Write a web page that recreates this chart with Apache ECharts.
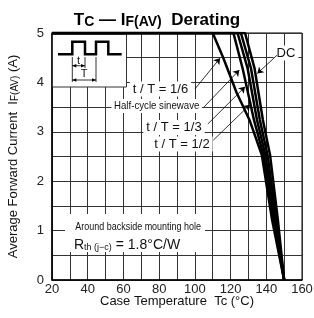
<!doctype html>
<html>
<head>
<meta charset="utf-8">
<script src="https://cdn.jsdelivr.net/npm/echarts@6/dist/echarts.min.js"></script>
<style>body{margin:0;background:#fff}#chart{width:314px;height:318px}</style>
</head>
<body>
<div id="chart"></div>
<script>
// case temperature (°C) vs. average forward current (A)
var amps = [5, 5, 4.29, 3.24, 2.53, 1.21, 0];
var tSine = [20, 121.6, 126.7, 133.1, 138.4, 144.0, 150];
var tThird = [20, 123.9, 129.5, 134.8, 139.5, 144.9, 150];
var tHalf = [20, 125.8, 131.4, 136.4, 140.7, 145.7, 150];
var tDC = [20, 128.1, 133.4, 138.1, 142.1, 146.5, 150];
var ampsSixth = [5, 5, 4.49, 3.79, 3.24, 2.53, 1.21, 0];
var tSixth = [20, 110, 116, 123.4, 130.6, 137.5, 143.3, 150];

var xTicks = [20, 40, 60, 80, 100, 120, 140, 160];
var yTicks = [0, 1, 2, 3, 4, 5];

// label arrows: [start, tip] in (°C, A)
var arrowSixth = [[100.1, 3.87], [114.1, 4.49]];
var arrowSine = [[105.1, 3.50], [124.9, 4.25]];
var arrowThird = [[107.3, 3.16], [128.1, 3.91]];
var arrowHalf = [[110.3, 2.83], [130.9, 3.55]];
var arrowDC = [[146, 4.55], [135, 4.18]];

var FONT = '"Liberation Sans", Arial, sans-serif';

function pairs(xs, ys) {
    return xs.map(function (x, i) { return [x, ys[i]]; });
}

function curve(name, xs, ys, arrow) {
    return {
        name: name,
        type: 'line',
        data: pairs(xs, ys),
        symbol: 'none',
        lineStyle: { color: '#000', width: 2.5 },
        z: 2,
        markLine: {
            silent: true,
            symbol: ['none', 'arrow'],
            symbolSize: 6,
            label: { show: false },
            lineStyle: { color: '#000', width: 0.8, type: 'solid' },
            data: [[{ coord: arrow[0] }, { coord: arrow[1] }]]
        }
    };
}

function head(x, y, dir) {
    var d = dir * 4;
    return { type: 'polygon', z: 3, shape: { points: [[x, y], [x - d, y - 1.8], [x - d, y + 1.8]] }, style: { fill: '#000' } };
}
function seg(x1, y1, x2, y2, w) {
    return { type: 'line', z: 3, shape: { x1: x1, y1: y1, x2: x2, y2: y2 }, style: { stroke: '#000', lineWidth: w || 0.8 } };
}
// text at (x, y); sx squeezes it horizontally for the condensed captions
function label(text, x, y, size, sx, align) {
    return {
        type: 'text', z: 4, x: x, y: y, scaleX: sx || 1,
        style: {
            text: text, x: 0, y: 0, align: align || 'center', verticalAlign: 'middle',
            font: (size || 13) + 'px ' + FONT, fill: '#111',
            backgroundColor: '#fff', padding: [1, 3]
        }
    };
}

var myChart = echarts.init(document.getElementById('chart'));

myChart.setOption({
    animation: false,
    backgroundColor: '#fff',
    title: {
        text: '{a|T}{b|C}{a| — I}{b|F(AV)}{a|  Derating}',
        left: 'center',
        top: 4,
        textStyle: {
            rich: {
                a: { fontSize: 17, fontWeight: 'bold', fontFamily: FONT, color: '#000', verticalAlign: 'bottom', lineHeight: 20 },
                b: { fontSize: 14, fontWeight: 'bold', fontFamily: FONT, color: '#000', verticalAlign: 'bottom', lineHeight: 20 }
            }
        }
    },
    grid: {
        left: 52, right: 12, top: 33, bottom: 38, outerBoundsMode: 'none',
        show: true, borderColor: '#000', borderWidth: 1
    },
    xAxis: {
        type: 'value', min: 20, max: 160, interval: 10,
        name: 'Case Temperature  Tc (°C)',
        nameLocation: 'middle', nameGap: 15, nameMoveOverlap: false,
        nameTextStyle: { fontSize: 13, fontFamily: FONT, color: '#111', verticalAlign: 'top' },
        axisLine: { lineStyle: { color: '#000', width: 1.5 } },
        axisTick: { show: false },
        axisLabel: {
            fontSize: 13, fontFamily: FONT, color: '#222', margin: 3,
            formatter: function (v) { return xTicks.indexOf(v) >= 0 ? String(v) : ''; }
        },
        splitLine: { lineStyle: { color: '#333', width: 1 } }
    },
    yAxis: {
        type: 'value', min: 0, max: 5, interval: 0.5,
        name: '{n|Average Forward Current  I}{s|F(AV)}{n| (A)}',
        nameLocation: 'middle', nameGap: 32, nameRotate: 90,
        nameTextStyle: {
            rich: {
                n: { fontSize: 13, fontFamily: FONT, color: '#111', verticalAlign: 'bottom', lineHeight: 15 },
                s: { fontSize: 10, fontFamily: FONT, color: '#111', verticalAlign: 'bottom', lineHeight: 14 }
            }
        },
        axisLine: { show: true, lineStyle: { color: '#000', width: 1.5 } },
        axisTick: { show: false },
        axisLabel: {
            fontSize: 13, fontFamily: FONT, color: '#222', margin: 8,
            formatter: function (v) { return yTicks.indexOf(v) >= 0 ? String(v) : ''; }
        },
        splitLine: { lineStyle: { color: '#333', width: 1 } }
    },
    series: [
        curve('t/T=1/6', tSixth, ampsSixth, arrowSixth),
        curve('Half-cycle sinewave', tSine, amps, arrowSine),
        curve('t/T=1/3', tThird, amps, arrowThird),
        curve('t/T=1/2', tHalf, amps, arrowHalf),
        curve('DC', tDC, amps, arrowDC)
    ],
    graphic: [
        // pulse waveform inset
        { type: 'rect', z: 1, shape: { x: 52.5, y: 34, width: 74, height: 53 }, style: { fill: '#fff', stroke: '#333', lineWidth: 1 } },
        { type: 'polyline', z: 3, shape: { points: [[58, 54.3], [72.3, 54.3], [72.3, 41.7], [85, 41.7], [85, 54.3], [96, 54.3], [96, 41.7], [108.3, 41.7], [108.3, 54.3], [121.7, 54.3]] }, style: { stroke: '#000', lineWidth: 2.5, fill: null } },
        seg(72.3, 57, 72.3, 82), seg(85, 57, 85, 68), seg(96, 57, 96, 82),
        seg(72.3, 65.7, 85, 65.7), head(85, 65.7, 1), head(72.3, 65.7, -1),
        seg(72.3, 80, 96, 80), head(96, 80, 1), head(72.3, 80, -1),
        { type: 'text', z: 4, style: { text: 't', x: 78.6, y: 60.5, align: 'center', verticalAlign: 'middle', font: '11px ' + FONT, fill: '#111' } },
        { type: 'text', z: 4, style: { text: 'T', x: 84, y: 74, align: 'center', verticalAlign: 'middle', font: '11px ' + FONT, fill: '#111' } },
        // curve labels
        label('t / T = 1/6', 160.5, 89),
        label('Half-cycle sinewave', 156.7, 106, 11.5, 0.84),
        label('t / T = 1/3', 174, 127.5),
        label('t / T = 1/2', 182, 144),
        label('DC', 286, 53),
        // thermal resistance note
        { type: 'rect', z: 1, shape: { x: 65, y: 214, width: 140, height: 38 }, style: { fill: '#fff' } },
        label('Around backside mounting hole', 73, 226.5, 11.5, 0.78, 'left'),
        {
            type: 'text', z: 4,
            style: {
                text: '{r|R}{s|th (j−c)}{r| = 1.8°C/W}', x: 74, y: 244, align: 'left', verticalAlign: 'middle',
                rich: {
                    r: { fontSize: 14, fontFamily: FONT, fill: '#111', verticalAlign: 'bottom', lineHeight: 16 },
                    s: { fontSize: 9, fontFamily: FONT, fill: '#111', verticalAlign: 'bottom', lineHeight: 13 }
                }
            }
        }
    ]
});
</script>
</body>
</html>
